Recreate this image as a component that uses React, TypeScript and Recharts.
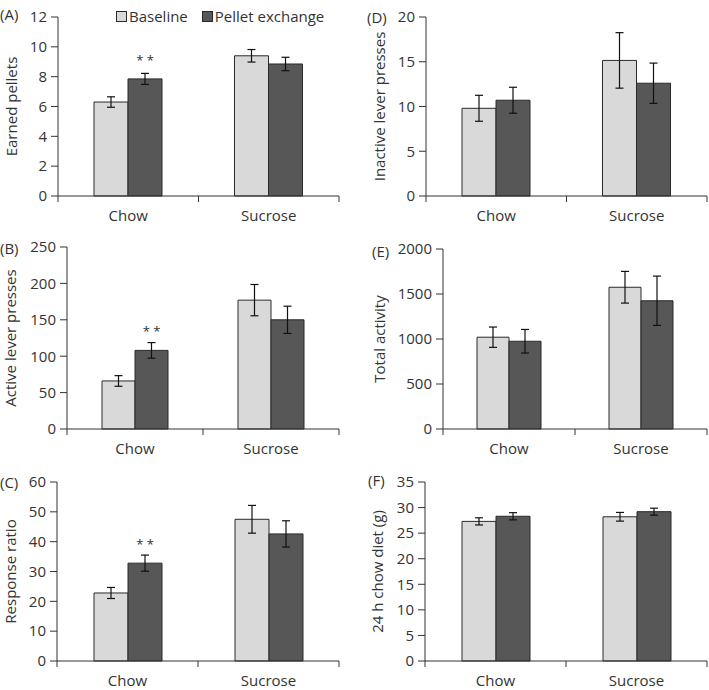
import React from "react";
import { BarChart, Bar, XAxis, YAxis, ErrorBar, LabelList, Legend } from "recharts";

const categories = ["Chow", "Sucrose"];
const seriesNames = ["Baseline", "Pellet exchange"];
const sigChow = ["* *", ""];

// (A) earned pellets
const earnedBase = [6.3, 9.4];
const earnedBaseErr = [0.35, 0.42];
const earnedPellet = [7.85, 8.85];
const earnedPelletErr = [0.37, 0.45];
const earnedTicks = [0, 2, 4, 6, 8, 10, 12];

// (B) active lever presses
const activeBase = [66, 177];
const activeBaseErr = [7.3, 21.5];
const activePellet = [108, 150];
const activePelletErr = [10.7, 18.7];
const activeTicks = [0, 50, 100, 150, 200, 250];

// (C) response ratio
const ratioBase = [22.8, 47.5];
const ratioBaseErr = [1.85, 4.65];
const ratioPellet = [32.8, 42.6];
const ratioPelletErr = [2.7, 4.4];
const ratioTicks = [0, 10, 20, 30, 40, 50, 60];

// (D) inactive lever presses
const inactiveBase = [9.8, 15.15];
const inactiveBaseErr = [1.45, 3.1];
const inactivePellet = [10.7, 12.6];
const inactivePelletErr = [1.45, 2.25];
const inactiveTicks = [0, 5, 10, 15, 20];

// (E) total activity
const activityBase = [1020, 1575];
const activityBaseErr = [113, 176];
const activityPellet = [975, 1425];
const activityPelletErr = [131, 274];
const activityTicks = [0, 500, 1000, 1500, 2000];

// (F) 24 h chow diet
const chowBase = [27.3, 28.2];
const chowBaseErr = [0.7, 0.85];
const chowPellet = [28.3, 29.2];
const chowPelletErr = [0.7, 0.68];
const chowTicks = [0, 5, 10, 15, 20, 25, 30, 35];

const LIGHT = "#d9d9d9";
const DARK = "#575757";
const EDGE = "#2a2a2a";
const AXIS = "#333";
const TEXT = "#333";
const FONT = "'Open Sans', sans-serif";
const FS = 15;

interface PanelProps {
  tag: string;
  yLabel: string;
  base: number[];
  baseErr: number[];
  pellet: number[];
  pelletErr: number[];
  ticks: number[];
  sig?: boolean;
  legend?: boolean;
  left: number;
  top: number;
  axisX: number;
  plotTop: number;
  plotBottom: number;
  plotRight: number;
  barSize: number;
  labelX: number;
  tagX: number;
  tagY: number;
}

function Panel(p: PanelProps) {
  const W = 354;
  const H = 230;
  const data = categories.map((c, i) => ({
    name: c,
    base: p.base[i],
    baseErr: p.baseErr[i],
    pellet: p.pellet[i],
    pelletErr: p.pelletErr[i],
    sig: p.sig ? sigChow[i] : "",
  }));
  const yAxisW = p.axisX - p.left;
  const mTop = p.plotTop - p.top;
  const xAxisH = H - (p.plotBottom - p.top);
  const half = (p.plotRight - p.axisX) / 4;

  const CatTick = (t: any) => {
    const { x, y, payload, index } = t;
    const h = payload && payload.offset ? payload.offset : half;
    return (
      <g>
        <line x1={x - h} y1={y} x2={x - h} y2={y + 6} stroke={AXIS} />
        {index === categories.length - 1 && (
          <line x1={x + h} y1={y} x2={x + h} y2={y + 6} stroke={AXIS} />
        )}
        <text x={x} y={y + 25} textAnchor="middle" fill={TEXT} fontSize={FS} fontFamily={FONT}>
          {payload.value}
        </text>
      </g>
    );
  };

  const legendContent = () => (
    <div style={{ display: "flex", alignItems: "center", fontFamily: FONT, fontSize: FS, color: TEXT, whiteSpace: "nowrap" }}>
      {seriesNames.map((n, i) => (
        <span key={n} style={{ display: "flex", alignItems: "center", marginRight: 14 }}>
          <span style={{ width: 9, height: 9, background: i === 0 ? LIGHT : DARK, border: `1px solid ${EDGE}`, marginRight: 2, display: "inline-block" }} />
          {n}
        </span>
      ))}
    </div>
  );

  return (
    <div style={{ position: "absolute", left: p.left, top: p.top, width: W, height: H }}>
      <BarChart
        width={W}
        height={H}
        data={data}
        margin={{ top: mTop, right: p.left + W - p.plotRight, left: 0, bottom: 0 }}
        barGap={0}
        barSize={p.barSize}
      >
        <XAxis
          dataKey="name"
          height={xAxisH}
          tickSize={0}
          tickMargin={0}
          tickLine={false}
          axisLine={{ stroke: AXIS }}
          tick={CatTick}
          interval={0}
        />
        <YAxis
          width={yAxisW}
          domain={[p.ticks[0], p.ticks[p.ticks.length - 1]]}
          ticks={p.ticks}
          interval={0}
          tickSize={7}
          tickMargin={4}
          tickLine={{ stroke: AXIS }}
          axisLine={{ stroke: AXIS }}
          tick={{ fill: TEXT, fontSize: FS, fontFamily: FONT }}
          label={{
            position: "insideLeft",
            content: (lp: any) => {
              const vb = lp.viewBox || { x: 0, y: mTop, height: p.plotBottom - p.plotTop };
              const cy = vb.y + vb.height / 2;
              return (
                <g>
                  <text
                    x={p.labelX}
                    y={cy}
                    transform={`rotate(-90, ${p.labelX}, ${cy})`}
                    textAnchor="middle"
                    dominantBaseline="central"
                    fill={TEXT}
                    fontSize={FS}
                    fontFamily={FONT}
                  >
                    {p.yLabel}
                  </text>
                  <text x={p.tagX} y={p.tagY} dominantBaseline="central" fill={TEXT} fontSize={FS} fontFamily={FONT}>
                    {p.tag}
                  </text>
                </g>
              );
            },
          }}
        />
        {p.legend && (
          <Legend
            layout="horizontal"
            verticalAlign="middle"
            align="center"
            wrapperStyle={{ top: 6, left: 116, width: "auto" }}
            content={legendContent}
          />
        )}
        <Bar dataKey="base" name={seriesNames[0]} fill={LIGHT} stroke={EDGE} strokeWidth={1} isAnimationActive={false}>
          <ErrorBar dataKey="baseErr" width={4} stroke="#111" strokeWidth={1.2} />
        </Bar>
        <Bar dataKey="pellet" name={seriesNames[1]} fill={DARK} stroke={EDGE} strokeWidth={1} isAnimationActive={false}>
          <ErrorBar dataKey="pelletErr" width={4} stroke="#111" strokeWidth={1.2} />
          {p.sig && (
            <LabelList dataKey="sig" position="top" offset={14} fill={TEXT} fontSize={13} fontFamily={FONT} />
          )}
        </Bar>
      </BarChart>
    </div>
  );
}

export default function App() {
  return (
    <div style={{ position: "absolute", left: 0, top: 0, width: 709, height: 690, background: "#fff" }}>
      <Panel tag="(A)" yLabel="Earned pellets" base={earnedBase} baseErr={earnedBaseErr} pellet={earnedPellet} pelletErr={earnedPelletErr}
        ticks={earnedTicks} sig legend left={0} top={0} axisX={58} plotTop={17} plotBottom={196} plotRight={339} barSize={34} labelX={11} tagX={0} tagY={14} />
      <Panel tag="(D)" yLabel="Inactive lever presses" base={inactiveBase} baseErr={inactiveBaseErr} pellet={inactivePellet} pelletErr={inactivePelletErr}
        ticks={inactiveTicks} left={355} top={0} axisX={426} plotTop={17} plotBottom={196} plotRight={707} barSize={34} labelX={24} tagX={12} tagY={17} />
      <Panel tag="(B)" yLabel="Active lever presses" base={activeBase} baseErr={activeBaseErr} pellet={activePellet} pelletErr={activePelletErr}
        ticks={activeTicks} sig left={0} top={230} axisX={67} plotTop={247} plotBottom={429} plotRight={339} barSize={33} labelX={10} tagX={0} tagY={18} />
      <Panel tag="(E)" yLabel="Total activity" base={activityBase} baseErr={activityBaseErr} pellet={activityPellet} pelletErr={activityPelletErr}
        ticks={activityTicks} left={355} top={230} axisX={443} plotTop={249} plotBottom={429} plotRight={707} barSize={32} labelX={24} tagX={17} tagY={21} />
      <Panel tag="(C)" yLabel="Response ratio" base={ratioBase} baseErr={ratioBaseErr} pellet={ratioPellet} pelletErr={ratioPelletErr}
        ticks={ratioTicks} sig left={0} top={460} axisX={57} plotTop={482} plotBottom={661} plotRight={339} barSize={34} labelX={10} tagX={0} tagY={22} />
      <Panel tag="(F)" yLabel="24 h chow diet (g)" base={chowBase} baseErr={chowBaseErr} pellet={chowPellet} pelletErr={chowPelletErr}
        ticks={chowTicks} left={355} top={460} axisX={425} plotTop={482} plotBottom={661} plotRight={707} barSize={34} labelX={22} tagX={13} tagY={20} />
    </div>
  );
}
